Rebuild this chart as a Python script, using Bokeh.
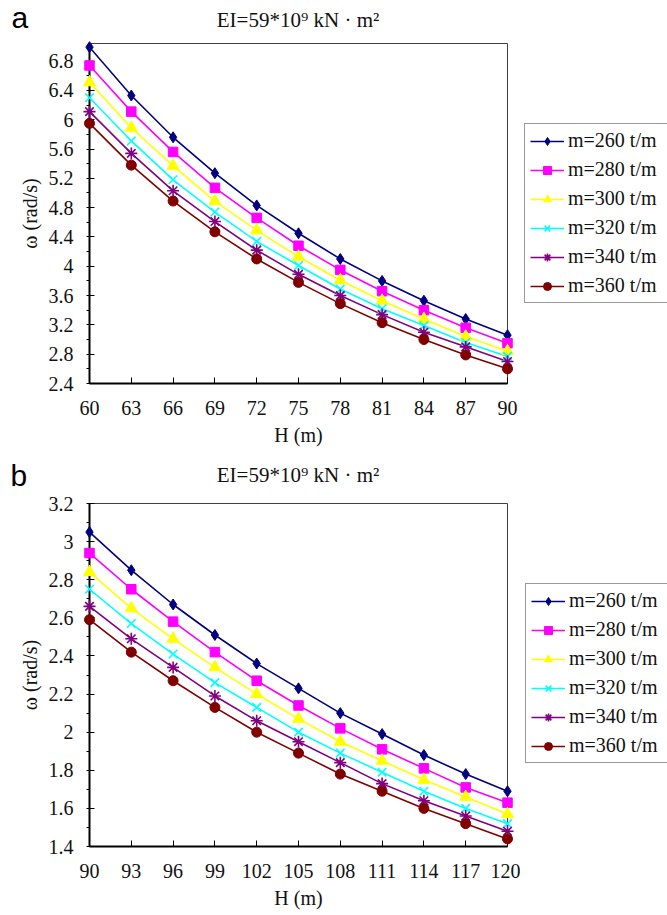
from bokeh.plotting import figure
from bokeh.models import Legend, LegendItem, Label, FixedTicker, Range1d
from bokeh.layouts import column, row
from bokeh.embed import file_html
from bokeh.resources import INLINE

# ---------------- data ----------------
title_text = "EI=59*10\u2079 kN \u00b7 m\u00b2"
series_labels = ["m=260 t/m", "m=280 t/m", "m=300 t/m", "m=320 t/m", "m=340 t/m", "m=360 t/m"]

H_a = [60, 63, 66, 69, 72, 75, 78, 81, 84, 87, 90]
w_a_260 = [6.99, 6.33, 5.76, 5.27, 4.83, 4.45, 4.10, 3.80, 3.53, 3.28, 3.06]
w_a_280 = [6.74, 6.11, 5.56, 5.07, 4.66, 4.28, 3.95, 3.66, 3.40, 3.16, 2.95]
w_a_300 = [6.51, 5.89, 5.37, 4.89, 4.49, 4.13, 3.81, 3.53, 3.28, 3.04, 2.84]
w_a_320 = [6.30, 5.71, 5.18, 4.74, 4.34, 4.01, 3.69, 3.42, 3.19, 2.96, 2.77]
w_a_340 = [6.11, 5.54, 5.03, 4.61, 4.22, 3.89, 3.60, 3.34, 3.10, 2.90, 2.70]
w_a_360 = [5.95, 5.38, 4.89, 4.47, 4.10, 3.78, 3.49, 3.23, 3.00, 2.79, 2.60]

H_b = [90, 93, 96, 99, 102, 105, 108, 111, 114, 117, 120]
w_b_260 = [3.05, 2.85, 2.67, 2.51, 2.36, 2.23, 2.10, 1.99, 1.88, 1.78, 1.69]
w_b_280 = [2.94, 2.75, 2.58, 2.42, 2.27, 2.14, 2.02, 1.91, 1.81, 1.71, 1.63]
w_b_300 = [2.84, 2.65, 2.49, 2.34, 2.20, 2.07, 1.95, 1.85, 1.75, 1.66, 1.57]
w_b_320 = [2.75, 2.57, 2.41, 2.26, 2.13, 2.00, 1.89, 1.79, 1.69, 1.60, 1.52]
w_b_340 = [2.66, 2.49, 2.34, 2.19, 2.06, 1.95, 1.84, 1.73, 1.64, 1.56, 1.48]
w_b_360 = [2.59, 2.42, 2.27, 2.13, 2.00, 1.89, 1.78, 1.69, 1.60, 1.52, 1.44]

yticks_a = [2.4, 2.8, 3.2, 3.6, 4.0, 4.4, 4.8, 5.2, 5.6, 6.0, 6.4, 6.8]
yminor_a = [2.6, 3.0, 3.4, 3.8, 4.2, 4.6, 5.0, 5.4, 5.8, 6.2, 6.6, 7.0]
yticks_b = [1.4, 1.6, 1.8, 2.0, 2.2, 2.4, 2.6, 2.8, 3.0, 3.2]
yminor_b = [1.5, 1.7, 1.9, 2.1, 2.3, 2.5, 2.7, 2.9, 3.1]

# ---------------- style ----------------
colors = ["#000080", "#FF00FF", "#FFFF00", "#00FFFF", "#800080", "#800000"]
markers = ["diamond", "square", "triangle", "x", "asterisk", "circle"]
msizes = [11, 9.5, 12, 12, 12, 10]
SERIF = "Liberation Serif"
W = 667
CW = 520          # chart figure width
LW = W - CW       # legend figure width


def bare_figure(w, h, xr, yr):
    p = figure(width=w, height=h, output_backend="svg", toolbar_location=None,
               x_range=Range1d(*xr), y_range=Range1d(*yr),
               x_axis_type=None, y_axis_type=None,
               min_border_left=0, min_border_right=0, min_border_top=0, min_border_bottom=0,
               background_fill_color="white", border_fill_color="white")
    p.grid.visible = False
    p.outline_line_color = None
    return p


def make_header(h, letter, letter_x, letter_y, title_y):
    p = bare_figure(W, h, (0, W), (0, h))
    p.add_layout(Label(x=letter_x, y=letter_y, text=letter, text_font="Liberation Sans",
                       text_font_size="30px", text_baseline="alphabetic", text_align="left",
                       text_color="black"))
    p.add_layout(Label(x=297.5, y=title_y, text=title_text, text_font=SERIF,
                       text_font_size="21px", text_baseline="alphabetic", text_align="center",
                       text_color="#111111"))
    return p


def make_chart(xs, ys_list, xr, yr, yticks, yminor, fig_h, top, bottom):
    p = figure(width=CW, height=fig_h, output_backend="svg", toolbar_location=None,
               x_range=Range1d(*xr), y_range=Range1d(*yr),
               min_border_left=89, min_border_right=CW - 507,
               min_border_top=top, min_border_bottom=bottom,
               background_fill_color="white", border_fill_color="white")
    p.grid.visible = False
    p.outline_line_color = "#404040"
    p.outline_line_width = 1

    p.xaxis.ticker = FixedTicker(ticks=xs)
    p.xaxis.major_label_overrides = {x: str(x) for x in xs}
    p.yaxis.ticker = FixedTicker(ticks=yticks, minor_ticks=yminor)
    p.yaxis.major_label_overrides = {t: ("%g" % t) for t in yticks}

    for ax in (p.xaxis[0], p.yaxis[0]):
        ax.axis_line_color = "black"
        ax.axis_line_width = 2
        ax.major_tick_line_color = "black"
        ax.minor_tick_line_color = "black"
        ax.major_tick_line_width = 1
        ax.major_label_text_font = SERIF
        ax.major_label_text_font_size = "20px"
        ax.major_label_text_color = "#111111"
        ax.axis_label_text_font = SERIF
        ax.axis_label_text_font_size = "20px"
        ax.axis_label_text_font_style = "normal"
        ax.axis_label_text_color = "#111111"

    p.xaxis.axis_label = "H (m)"
    p.xaxis.major_tick_in = 6
    p.xaxis.major_tick_out = 0
    p.xaxis.minor_tick_in = 0
    p.xaxis.minor_tick_out = 0
    p.xaxis.major_label_standoff = 17
    p.xaxis.axis_label_standoff = 6

    p.yaxis.axis_label = "\u03c9 (rad/s)"
    p.yaxis.major_tick_in = 5
    p.yaxis.major_tick_out = 3
    p.yaxis.minor_tick_in = 0
    p.yaxis.minor_tick_out = 3
    p.yaxis.major_label_standoff = 13
    p.yaxis.axis_label_standoff = 5

    for ys, c, mk, ms in zip(ys_list, colors, markers, msizes):
        p.line(xs, ys, line_color=c, line_width=1.6)
        lw = 1.6 if mk in ("x", "asterisk") else 1
        p.scatter(xs, ys, marker=mk, size=ms, fill_color=c, line_color=c,
                  line_width=lw, level="overlay")
    return p


def make_legend_fig(xs, ys_list, fig_h, loc):
    # legend key panel (its frame is aligned with the chart frame in the row);
    # the series lie outside its view, only the key shows
    p = bare_figure(LW, fig_h, (0, 1), (0, 1))
    items = []
    for ys, c, mk, ms, lab in zip(ys_list, colors, markers, msizes, series_labels):
        lr = p.line(xs, ys, line_color=c, line_width=1.6)
        lw = 1.6 if mk in ("x", "asterisk") else 1
        sr = p.scatter(xs, ys, marker=mk, size=ms, fill_color=c, line_color=c, line_width=lw)
        items.append(LegendItem(label=lab, renderers=[lr, sr]))
    leg = Legend(items=items, location=loc, orientation="vertical")
    leg.label_text_font = SERIF
    leg.label_text_font_size = "20px"
    leg.label_text_color = "#111111"
    leg.glyph_width = 34
    leg.glyph_height = 20
    leg.label_height = 20
    leg.label_width = 100
    leg.label_standoff = 4
    leg.spacing = 6
    leg.padding = 5
    leg.margin = 0
    leg.border_line_color = "#333333"
    leg.border_line_width = 1.5
    leg.background_fill_color = "white"
    leg.background_fill_alpha = 1.0
    p.add_layout(leg)
    return p


series_a = [w_a_260, w_a_280, w_a_300, w_a_320, w_a_340, w_a_360]
series_b = [w_b_260, w_b_280, w_b_300, w_b_320, w_b_340, w_b_360]

hdr_a = make_header(38, "a", 11, 21, 19)
pa = make_chart(H_a, series_a, (60, 90), (2.4, 7.04), yticks_a, yminor_a, 417, 5, 72)
la = make_legend_fig(H_a, series_a, 417, (4, 80))

hdr_b = make_header(37, "b", 10, 17, 18)
pb = make_chart(H_b, series_b, (90, 120), (1.4, 3.2), yticks_b, yminor_b, 423, 11, 69)
lb = make_legend_fig(H_b, series_b, 423, (5, 83))

layout = column(hdr_a, row(pa, la, spacing=0), hdr_b, row(pb, lb, spacing=0), spacing=0)
open("out.html", "w").write(file_html(layout, INLINE))
